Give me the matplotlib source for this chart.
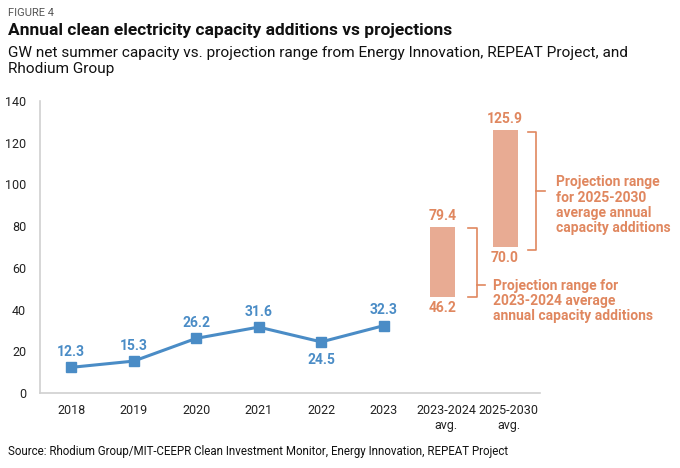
import matplotlib
matplotlib.use("Agg")
import matplotlib.pyplot as plt
import numpy as np

plt.rcParams['font.family'] = ['Roboto', 'DejaVu Sans']

# data
categories = ["2018", "2019", "2020", "2021", "2022", "2023", "2023-2024\navg.", "2025-2030\navg."]
years = ["2018", "2019", "2020", "2021", "2022", "2023"]
actual = [12.3, 15.3, 26.2, 31.6, 24.5, 32.3]
range_names = ["2023-2024\navg.", "2025-2030\navg."]
range_low = [46.2, 70.0]
range_high = [79.4, 125.9]
range_notes = ["Projection range for\n2023-2024 average\nannual capacity additions",
               "Projection range\nfor 2025-2030\naverage annual\ncapacity additions"]

blue = "#4a8cc6"
bar_col = "#e8ab93"
txt_orange = "#e0875f"

fig = plt.figure(figsize=(6.8, 4.68), dpi=100)
ax = fig.add_axes([40/680, 75/468, 500/680, 292/468])

x = np.arange(len(categories))
xa = x[:len(years)]

ax.plot(xa, actual, color=blue, lw=2.2, marker="s", ms=7, zorder=3)
for xi, v in zip(xa, actual):
    off = -13 if v == 24.5 else 11
    ax.annotate(f"{v:.1f}", (xi, v), xytext=(0, off), textcoords="offset points",
                ha="center", va="center", color=blue, fontsize=10, fontweight="bold")

# projection ranges
xr = x[len(years):] - 0.06
ax.bar(xr, np.array(range_high) - np.array(range_low), bottom=range_low, width=0.4,
       color=bar_col, zorder=2)
for xi, lo, hi in zip(xr, range_low, range_high):
    ax.annotate(f"{hi:.1f}", (xi, hi), xytext=(0, 8), textcoords="offset points",
                ha="center", va="center", color=txt_orange, fontsize=10, fontweight="bold")
    ax.annotate(f"{lo:.1f}", (xi, lo), xytext=(0, -8), textcoords="offset points",
                ha="center", va="center", color=txt_orange, fontsize=10, fontweight="bold")

# brackets
def brace(x0, x1, x2, lo, hi, mid):
    ax.plot([x0, x1, x1, x0], [hi, hi, lo, lo], color=txt_orange, lw=1.2, clip_on=False,
            solid_joinstyle="round")
    ax.plot([x1, x2], [mid, mid], color=txt_orange, lw=1.2, clip_on=False)

brace(6.35, 6.49, 6.62, 46.0, 79.1, 51.8)
brace(7.30, 7.43, 7.58, 68.6, 125.1, 96.8)

ax.text(6.75, 44.1, range_notes[0], color=txt_orange, fontsize=10, fontweight="bold",
        ha="left", va="center", linespacing=1.1)
ax.text(7.76, 90.1, range_notes[1], color=txt_orange, fontsize=10, fontweight="bold",
        ha="left", va="center", linespacing=1.1)

ax.set_xlim(-0.5, 7.5)
ax.set_ylim(0, 140)
ax.set_yticks(np.arange(0, 141, 20))
ax.set_xticks(x)
ax.set_xticklabels(categories, linespacing=1.2)
ax.tick_params(axis="both", length=0, labelsize=9, colors="#222222", pad=8)
ax.tick_params(axis="y", pad=10)
for s in ["top", "right"]:
    ax.spines[s].set_visible(False)
for s in ["left", "bottom"]:
    ax.spines[s].set_color("#d0d0d0")
    ax.spines[s].set_linewidth(1.2)

fig.text(8/680, 1 - 13/468, "FIGURE 4", fontsize=8, color="#555555", va="center")
fig.text(8/680, 1 - 31/468, "Annual clean electricity capacity additions vs projections",
         fontsize=12.5, fontweight="bold", color="#111111", va="center")
fig.text(8/680, 1 - 61/468,
         "GW net summer capacity vs. projection range from Energy Innovation, REPEAT Project, and\nRhodium Group",
         fontsize=11.1, color="#111111", va="center", linespacing=1.25)
fig.text(8/680, 1 - 451/468,
         "Source: Rhodium Group/MIT-CEEPR Clean Investment Monitor, Energy Innovation, REPEAT Project",
         fontsize=8.3, color="#111111", va="center")

fig.savefig("out.png", dpi=100)
